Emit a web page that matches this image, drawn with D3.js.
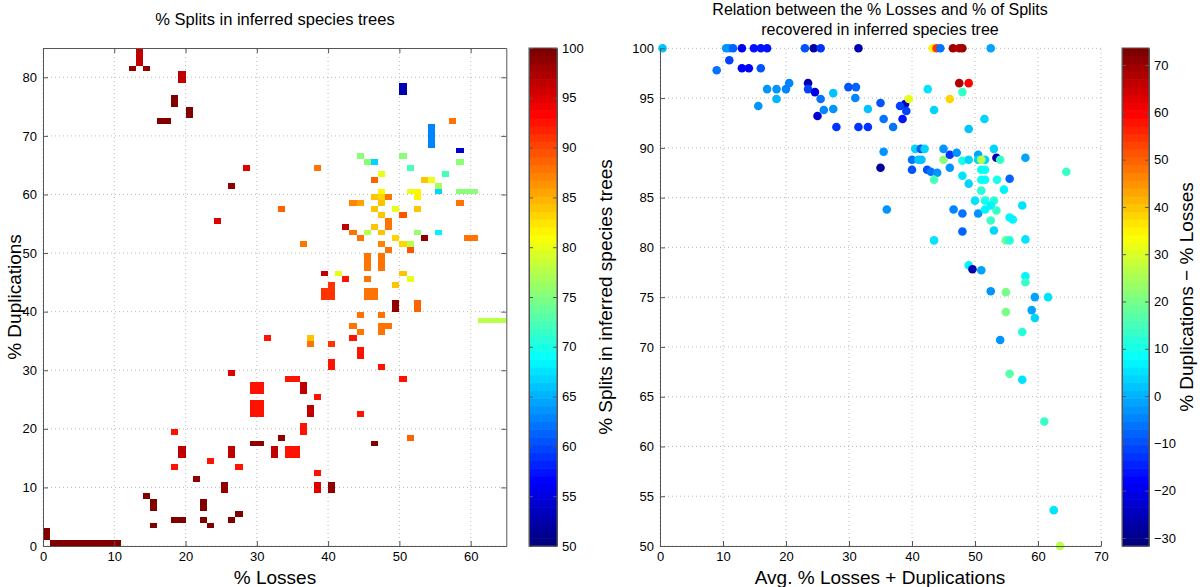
<!DOCTYPE html>
<html><head><meta charset="utf-8">
<script src="https://cdn.jsdelivr.net/npm/d3@7"></script>
<style>
body{margin:0;background:#fff}
text{font-family:"Liberation Sans",Arial,Helvetica,sans-serif;fill:#000}
.axis path,.axis line{stroke:#555;stroke-width:1}
.axis text{font-size:13px}
.grid line{stroke:#bbb;stroke-width:1;stroke-dasharray:1,3}
.cells rect{shape-rendering:crispEdges}
</style></head>
<body><svg id="c" width="1200" height="587"></svg>
<script>
// ---------- data ----------
const leftXTicks=[0,10,20,30,40,50,60];
const leftYTicks=[0,10,20,30,40,50,60,70,80];
const leftCbTicks=[50,55,60,65,70,75,80,85,90,95,100];
const rightXTicks=[0,10,20,30,40,50,60,70];
const rightYTicks=[50,55,60,65,70,75,80,85,90,95,100];
const rightCbTicks=[-30,-20,-10,0,10,20,30,40,50,60,70];

// left heatmap cells: [% losses bin, % duplications bin, % splits]
const cells=[
[13,82,97],[13,83,97],[13,84,97],[12,81,99],[14,81,99],
[19,79,97],[19,80,97],[18,75,100],[18,76,100],[20,73,100],[20,74,100],
[16,72,100],[17,72,100],[28,64,95],[26,61,99],[24,55,95],[33,57,89],[36,51,88],
[50,77,52],[50,78,52],[57,72,88],
[54,68,63],[54,69,63],[54,70,63],[54,71,63],[58,67,54],
[44,66,75],[50,66,75],[45,65,75],[46,65,67],[58,65,75],
[38,64,88],[51,64,72],[47,63,80],[56,63,72],
[46,62,89],[53,62,84],[54,62,80],[55,61,77],
[47,60,82],[51,60,80],[52,60,82],[55,60,67],[58,60,75],[59,60,75],[60,60,75],
[46,59,84],[47,59,83],[48,59,88],[52,59,82],
[43,58,87],[44,58,86],[47,58,84],[58,58,88],
[46,57,84],[49,57,80],[52,57,84],[47,56,84],[50,56,90],
[48,55,88],[42,54,97],[46,54,84],[48,54,88],
[43,53,88],[45,53,78],[47,53,84],[52,53,76],[55,53,68],
[44,52,88],[49,52,83],[53,52,99],[59,52,88],[60,52,88],
[47,51,87],[50,51,83],[51,51,78],[48,50,88],[51,50,90],
[45,47,88],[45,48,88],[45,49,88],[47,47,88],[47,48,88],[47,49,88],
[39,46,97],[41,46,80],[50,46,84],[42,45,93],[45,45,88],[51,45,80],
[40,44,91],[49,44,84],[39,42,91],[39,43,91],[40,42,91],[40,43,91],
[45,42,88],[45,43,88],[46,42,88],[46,43,88],
[49,40,99],[49,41,99],[52,40,89],[52,41,89],[44,39,88],[47,39,88],
[61,38,78],[62,38,78],[63,38,78],[64,38,78],
[43,37,88],[47,37,88],[48,37,88],[44,36,88],[47,36,88],
[31,35,93],[37,35,84],[43,35,93],[37,34,88],[40,34,91],
[44,32,93],[44,33,93],[40,30,93],[40,31,93],[47,30,93],[26,29,95],
[34,28,93],[35,28,93],[50,28,93],
[29,26,93],[30,26,93],[29,27,93],[30,27,93],[36,26,97],[36,27,97],[38,25,93],
[29,22,93],[30,22,93],[29,23,93],[30,23,93],[29,24,93],[30,24,93],
[37,22,97],[37,23,97],[44,22,93],[36,19,93],[36,20,93],[18,19,93],
[51,18,89],[33,18,99],[29,17,99],[30,17,99],[46,17,100],
[19,15,97],[19,16,97],[26,15,97],[26,16,97],[32,15,97],[32,16,97],
[34,15,93],[35,15,93],[34,16,93],[35,16,93],
[23,14,93],[18,13,93],[27,13,93],[38,12,93],[21,11,99],
[25,9,99],[25,10,99],[38,9,95],[38,10,95],[40,9,99],[40,10,99],
[14,8,100],[15,6,100],[15,7,100],[22,6,100],[22,7,100],
[27,5,100],[18,4,100],[19,4,100],[22,4,100],[26,4,100],[15,3,100],[23,3,100],
[0,1,100],[0,2,100],
[1,0,100],[2,0,100],[3,0,100],[4,0,100],[5,0,100],[6,0,100],[7,0,100],[8,0,100],[9,0,100],[10,0,100]
];

// right scatter: [avg % losses+dups, % splits, % dups - % losses]
const points=[
[0.4,100,1],[10.5,100,-3],[11,100,-3],[11.6,100,-8],[13,100,-20],[14.9,100,-17],[16,100,-17],[17,100,-17],
[23,100,-10],[24.4,100,-28],[25.5,100,-14],[31.5,100,-27],[43.3,100,35],[43.9,100,55],[44.5,100,-6],
[46.5,100,70],[47.5,100,68],[48,100,70],[52.5,100,-2],
[9,97.8,-6],[11,98.8,-11],[13,98,-18],[14.1,98,-18],[16,98,-10],[15.6,94.2,-4],[17,95.9,-3],
[18.5,95.9,-4],[18.5,94.9,0],[20,95.9,-5],[20.5,96.5,-5],[23.5,96.5,-27],[23.5,95.9,-12],[24.6,95.6,-21],
[25.5,94.9,-6],[25,93.2,-24],[26,93.8,-5],[27.5,95.5,2],[27.5,93.9,-3],[28,92.1,-14],[29.9,96.1,-10],
[31.1,96.1,-8],[31,95,-5],[31.5,92.1,-14],[33,92.1,-14],[33,93.9,2],[35,94.5,-10],[35.5,92.9,-7],
[37,92.1,-6],[38.9,94.4,-25],[38.1,94.2,-12],[39.1,93.7,-12],[38.5,92.9,-16],[39.5,94.9,32],
[42.5,95.9,5],[43.5,93.8,3],[46,94.9,38],[47.5,96.5,68],[49,96.5,60],[48,95.6,13],[51.5,92.9,4],[49,91.9,2],
[35,88,-28],[35.5,89.6,-4],[36,83.8,-3],[40.5,89.9,3],[41.4,89.9,-10],[42,89.9,3],[40,88.8,-6],
[41,88.8,2],[41.5,88.8,2],[40,87.8,-10],[42.4,87.8,-10],[43,87.6,-6],[44,87.5,-4],[43.5,86.8,15],
[45,89.9,-4],[45,88.8,21],[46,89.3,-14],[47.1,89.5,-3],[46,88,-3],[48,88.7,10],[49,88.8,4],
[50.5,89.3,-1],[50.5,88.8,4],[51.6,88.8,4],[51,88.8,26],[48,87.2,5],[49,86.4,3],[51,87.8,8],
[51.6,87.8,8],[51,86.8,8],[51.6,86.8,8],[51,85.7,12],[53,89.9,4],[53.4,89,-27],[54,88.8,14],
[53.5,86.8,10],[55.5,86.9,-8],[54.6,85.8,6],[58,89,-2],[64.5,87.6,14],[50,84.7,5],[51.6,84.7,10],
[53,84.7,12],[46.6,83.8,-5],[48,83.4,-6],[50.5,83.4,-3],[51.6,83.8,6],[52.5,84.2,7],[53.4,83.7,13],
[52.5,82.7,14],[55.5,83,7],[56,82.8,7],[57.5,84.2,5],[48,81.6,-8],[53,81.7,4],[43.5,80.7,5],
[54.9,80.7,19],[55.5,80.7,12],[58,80.8,5],
[49,78.2,6],[49.6,77.8,-26],[51,77.7,-1],[58,77.1,6],[58,76.5,13],[52.5,75.6,-3],[54.9,75.5,20],
[59.5,75,-2],[61.6,75,5],[54.9,73.5,20],[59,73.7,-2],[59.5,72.9,4],[57.5,71.5,12],[54,70.7,-3],
[55.5,67.3,17],[57.5,66.7,5],[61,62.5,13],[62.5,53.6,5],[63.5,50,27]
];

// ---------- jet colormap (64 levels) ----------
function jet(t){
  t=Math.max(0,Math.min(1,t));
  t=Math.round(t*63)/63;
  const c=v=>Math.round(255*Math.max(0,Math.min(1,v)));
  return `rgb(${c(1.5-Math.abs(4*t-3))},${c(1.5-Math.abs(4*t-2))},${c(1.5-Math.abs(4*t-1))})`;
}

const svg=d3.select("#c");

// ---------- LEFT PANEL ----------
const lx=d3.scaleLinear().domain([0,65]).range([43,506.3]);
const ly=d3.scaleLinear().domain([0,85]).range([546,48]);
const lcol=d3.scaleLinear().domain([50,100]).range([0,1]);

function grid(g,xs,ys,xt,yt){
  const gg=g.append("g").attr("class","grid");
  gg.selectAll(".v").data(xt).enter().append("line")
    .attr("x1",d=>xs(d)).attr("x2",d=>xs(d)).attr("y1",ys.range()[0]).attr("y2",ys.range()[1]);
  gg.selectAll(".h").data(yt).enter().append("line")
    .attr("y1",d=>ys(d)).attr("y2",d=>ys(d)).attr("x1",xs.range()[0]).attr("x2",xs.range()[1]);
}
grid(svg,lx,ly,leftXTicks,leftYTicks);

svg.append("g").attr("class","cells").selectAll("rect").data(cells).enter().append("rect")
  .attr("x",d=>lx(d[0])).attr("y",d=>ly(d[1]+1))
  .attr("width",d=>lx(d[0]+1)-lx(d[0])).attr("height",d=>ly(d[1])-ly(d[1]+1))
  .attr("fill",d=>jet(lcol(d[2])));

svg.append("g").attr("class","axis").attr("transform","translate(0,546)")
  .call(d3.axisBottom(lx).tickValues(leftXTicks).tickSizeInner(-5).tickSizeOuter(0).tickPadding(6));
svg.append("g").attr("class","axis").attr("transform","translate(43,0)")
  .call(d3.axisLeft(ly).tickValues(leftYTicks).tickSizeInner(-5).tickSizeOuter(0).tickPadding(6));
svg.append("g").attr("class","axis").attr("transform","translate(0,48)")
  .call(d3.axisTop(lx).tickValues(leftXTicks).tickSizeInner(-5).tickSizeOuter(0).tickFormat(""));
svg.append("g").attr("class","axis").attr("transform","translate(506.3,0)")
  .call(d3.axisRight(ly).tickValues(leftYTicks).tickSizeInner(-5).tickSizeOuter(0).tickFormat(""));

// colorbars
function colorbar(x0,x1,y0,y1,dom,ticks){
  const s=d3.scaleLinear().domain(dom).range([y1,y0]);
  const steps=d3.range(64);
  const h=(y1-y0)/64;
  svg.append("g").selectAll("rect").data(steps).enter().append("rect")
    .attr("x",x0).attr("width",x1-x0)
    .attr("y",d=>y1-(d+1)*h).attr("height",h+0.6)
    .attr("fill",d=>jet((d+0.5)/64));
  svg.append("rect").attr("x",x0).attr("y",y0).attr("width",x1-x0).attr("height",y1-y0)
    .attr("fill","none").attr("stroke","#555");
  svg.append("g").attr("class","axis").attr("transform",`translate(${x1},0)`)
    .call(d3.axisRight(s).tickValues(ticks).tickSizeInner(-4).tickSizeOuter(0).tickPadding(5)
      .tickFormat(d=>d<0?"\u2212"+Math.abs(d):d));
  svg.append("g").attr("class","axis").attr("transform",`translate(${x0},0)`)
    .call(d3.axisLeft(s).tickValues(ticks).tickSizeInner(-4).tickSizeOuter(0).tickFormat(""));
}
colorbar(529,557,48,546,[50,100],leftCbTicks);

svg.append("text").attr("x",275).attr("y",25).attr("text-anchor","middle")
  .style("font-size","16.5px").text("% Splits in inferred species trees");
svg.append("text").attr("x",275).attr("y",584).attr("text-anchor","middle")
  .style("font-size","19px").text("% Losses");
svg.append("text").attr("transform","translate(21,297) rotate(-90)").attr("text-anchor","middle")
  .style("font-size","19px").text("% Duplications");

// ---------- RIGHT PANEL ----------
const rx=d3.scaleLinear().domain([0,70]).range([660,1101]);
const ry=d3.scaleLinear().domain([50,100]).range([546,48.3]);
const rcol=d3.scaleLinear().domain([-31.7,73.6]).range([0,1]);
grid(svg,rx,ry,rightXTicks,rightYTicks);

svg.append("g").selectAll("circle").data(points).enter().append("circle")
  .attr("cx",d=>rx(d[0])).attr("cy",d=>ry(d[1])).attr("r",4.3)
  .attr("fill",d=>jet(rcol(d[2])));

svg.append("g").attr("class","axis").attr("transform","translate(0,546)")
  .call(d3.axisBottom(rx).tickValues(rightXTicks).tickSizeInner(-5).tickSizeOuter(0).tickPadding(6));
svg.append("g").attr("class","axis").attr("transform","translate(660,0)")
  .call(d3.axisLeft(ry).tickValues(rightYTicks).tickSizeInner(-5).tickSizeOuter(0).tickPadding(6));

colorbar(1122,1149,48,546,[-31.7,73.6],rightCbTicks);

svg.append("text").attr("x",880).attr("y",15).attr("text-anchor","middle")
  .style("font-size","16px").text("Relation between the % Losses and % of Splits");
svg.append("text").attr("x",880).attr("y",35).attr("text-anchor","middle")
  .style("font-size","16px").text("recovered in inferred species tree");
svg.append("text").attr("x",880).attr("y",584).attr("text-anchor","middle")
  .style("font-size","19px").text("Avg. % Losses + Duplications");
svg.append("text").attr("transform","translate(612,297) rotate(-90)").attr("text-anchor","middle")
  .style("font-size","19px").text("% Splits in inferred species trees");
svg.append("text").attr("transform","translate(1193,297) rotate(-90)").attr("text-anchor","middle")
  .style("font-size","19px").text("% Duplications \u2212 % Losses");
</script></body></html>
